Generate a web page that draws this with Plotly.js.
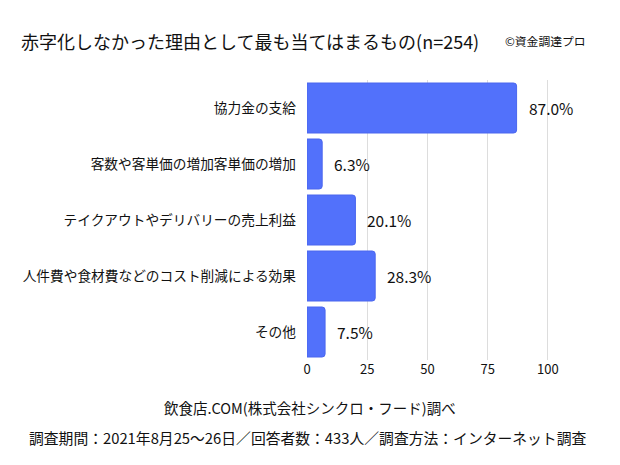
<!DOCTYPE html>
<html>
<head>
<meta charset="utf-8">
<script src="https://cdn.plot.ly/plotly-3.0.1.min.js"></script>
<style>
  body { margin: 0; background: #fff; }
  #plot { width: 620px; height: 465px; }
</style>
</head>
<body>
<div id="plot"></div>
<script>
var categories = [
  '協力金の支給',
  '客数や客単価の増加客単価の増加',
  'テイクアウトやデリバリーの売上利益',
  '人件費や食材費などのコスト削減による効果',
  'その他'
];
var values = [87.0, 6.3, 20.1, 28.3, 7.5];
var xTicks = [0, 25, 50, 75, 100];

var font = 'Noto Sans CJK JP, Noto Sans, sans-serif';

var trace = {
  type: 'bar',
  orientation: 'h',
  x: values,
  y: categories,
  marker: {
    color: '#5271fb',
    line: {color: '#4a66ee', width: 1},
    cornerradius: 3
  },
  hoverinfo: 'none'
};

// value labels sit a little to the right of each bar
var labels = values.map(function (v, i) {
  return {
    x: v, y: categories[i], xref: 'x', yref: 'y',
    text: v.toFixed(1) + '%',
    showarrow: false, xanchor: 'left', xshift: 10,
    font: {family: font, size: 15.5, color: '#111'}
  };
});

var notes = [
  {text: '赤字化しなかった理由として最も当てはまるもの(n=254)', x: 18, y: 41, xanchor: 'left', size: 18},
  {text: '©資金調達プロ', x: 589, y: 41, xanchor: 'right', size: 11.8},
  {text: '飲食店.COM(株式会社シンクロ・フード)調べ', x: 310, y: 408, xanchor: 'center', size: 14.5},
  {text: '調査期間：2021年8月25〜26日／回答者数：433人／調査方法：インターネット調査', x: 308, y: 438, xanchor: 'center', size: 14.8}
].map(function (n) {
  return {
    text: n.text, xref: 'paper', yref: 'paper',
    x: (n.x - 307) / (572.5 - 307),
    y: (465 - 104.7 - n.y) / (360.3 - 80.3),
    xanchor: n.xanchor, yanchor: 'middle', showarrow: false,
    font: {family: font, size: n.size, color: '#111'}
  };
});

var layout = {
  width: 620,
  height: 465,
  margin: {l: 307, r: 47.5, t: 80.3, b: 104.7},
  paper_bgcolor: '#fff',
  plot_bgcolor: '#fff',
  showlegend: false,
  bargap: 0.107,
  font: {family: font, color: '#111'},
  xaxis: {
    range: [0, 110],
    tickvals: xTicks,
    ticktext: xTicks.map(String),
    showgrid: true,
    gridcolor: '#dddddd',
    gridwidth: 1,
    zeroline: false,
    showline: false,
    ticks: '',
    tickfont: {family: font, size: 13, color: '#111'},
    fixedrange: true
  },
  yaxis: {
    autorange: 'reversed',
    showgrid: false,
    zeroline: false,
    showline: false,
    ticks: '',
    ticklabelstandoff: 10,
    tickfont: {family: font, size: 13.7, color: '#111'},
    fixedrange: true
  },
  annotations: labels.concat(notes)
};

Plotly.newPlot('plot', [trace], layout, {displayModeBar: false, staticPlot: true});
</script>
</body>
</html>
